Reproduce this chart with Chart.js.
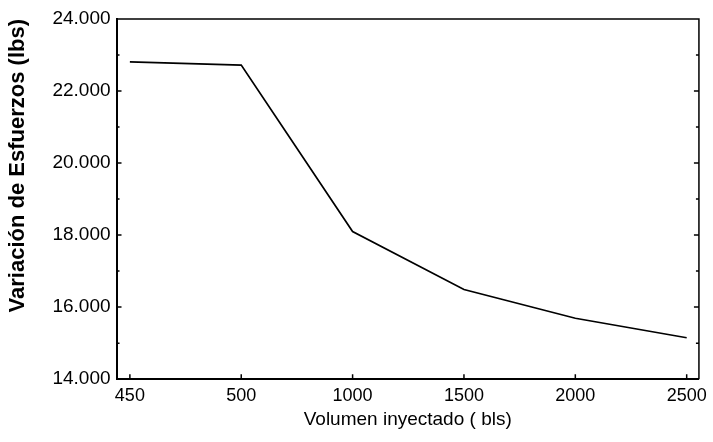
<!DOCTYPE html>
<html>
<head>
    <meta charset="utf-8">
    <title>Variación de Esfuerzos</title>
    <script src="https://cdn.jsdelivr.net/npm/chart.js"></script>
    <style>
        body { margin: 0; background: #fff; }
        #wrap { width: 713px; height: 442px; }
    </style>
</head>
<body>
    <div id="wrap"><canvas id="esfuerzos"></canvas></div>

    <script>
        const volumenLabels = ['450', '500', '1000', '1500', '2000', '2500'];
        const esfuerzos = [22810, 22720, 18100, 16490, 15690, 15150];
        const yTicks = [14000, 16000, 18000, 20000, 22000, 24000];

        const points = esfuerzos.map((v, i) => ({ x: i, y: v }));

        // 24000 -> "24.000"
        const fmtMiles = v => String(v).replace(/(\d)(\d{3})$/, '$1.$2');

        // small inward tick marks, like the original plot
        const tickMarks = {
            id: 'tickMarks',
            afterDraw: chart => {
                const a = chart.chartArea, c = chart.ctx;
                const xs = chart.scales.x, ys = chart.scales.y;
                c.save();
                c.strokeStyle = '#000';
                c.lineWidth = 1.5;
                c.beginPath();
                // top and right border
                c.moveTo(a.left, a.top);
                c.lineTo(a.right, a.top);
                c.lineTo(a.right, a.bottom);
                yTicks.forEach((v, i) => {
                    const y = ys.getPixelForValue(v);
                    c.moveTo(a.left, y); c.lineTo(a.left + 5, y);
                    c.moveTo(a.right, y); c.lineTo(a.right - 5, y);
                    if (i < yTicks.length - 1) {
                        const m = ys.getPixelForValue((v + yTicks[i + 1]) / 2);
                        c.moveTo(a.left, m); c.lineTo(a.left + 3, m);
                        c.moveTo(a.right, m); c.lineTo(a.right - 3, m);
                    }
                });
                volumenLabels.forEach((_, i) => {
                    const x = xs.getPixelForValue(i);
                    c.moveTo(x, a.bottom); c.lineTo(x, a.bottom - 5);
                });
                c.stroke();
                c.restore();
            }
        };

        const ctx = document.getElementById('esfuerzos').getContext('2d');
        new Chart(ctx, {
            type: 'line',
            data: {
                datasets: [{
                    label: 'Esfuerzos',
                    data: points,
                    borderColor: '#000',
                    borderWidth: 1.7,
                    pointRadius: 0,
                    tension: 0
                }]
            },
            options: {
                responsive: true,
                maintainAspectRatio: false,
                animation: false,
                layout: { padding: { top: 19, right: 14, left: 5, bottom: 15 } },
                plugins: { legend: { display: false }, tooltip: { enabled: false } },
                scales: {
                    x: {
                        type: 'linear',
                        min: -0.12,
                        max: 5.11,
                        afterBuildTicks: axis => {
                            axis.ticks = volumenLabels.map((_, i) => ({ value: i }));
                        },
                        ticks: {
                            callback: v => volumenLabels[v],
                            color: '#000',
                            font: { family: 'Liberation Sans', size: 18 },
                            padding: 6,
                            maxRotation: 0
                        },
                        grid: { display: false, drawTicks: false },
                        border: { color: '#000', width: 2 },
                        title: {
                            display: true,
                            text: 'Volumen inyectado ( bls)',
                            color: '#000',
                            font: { family: 'Liberation Sans', size: 19, lineHeight: 0.75 },
                            padding: { top: 0, bottom: 0 }
                        }
                    },
                    y: {
                        min: 14000,
                        max: 24000,
                        afterBuildTicks: axis => {
                            axis.ticks = yTicks.map(v => ({ value: v }));
                        },
                        ticks: {
                            callback: v => fmtMiles(v),
                            color: '#000',
                            font: { family: 'Liberation Sans', size: 19 },
                            padding: 6
                        },
                        grid: { display: false, drawTicks: false },
                        border: { color: '#000', width: 2 },
                        title: {
                            display: true,
                            text: 'Variación de Esfuerzos (lbs)',
                            align: 'end',
                            color: '#000',
                            font: { family: 'Liberation Sans', size: 22, weight: 'bold' },
                            padding: { top: 0, bottom: 15 }
                        }
                    }
                }
            },
            plugins: [tickMarks]
        });
    </script>
</body>
</html>
